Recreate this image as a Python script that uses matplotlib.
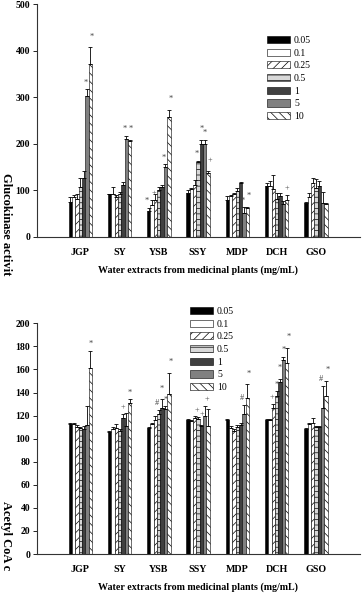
import numpy as np
import matplotlib
matplotlib.use('Agg')
import matplotlib.pyplot as plt

plt.rcParams['font.family'] = ['Liberation Serif', 'DejaVu Serif']
plt.rcParams['hatch.linewidth'] = 0.5

# Data
plants = ['JGP', 'SY', 'YSB', 'SSY', 'MDP', 'DCH', 'GSO']
doses = ['0.05', '0.1', '0.25', '0.5', '1', '5', '10']

# Glucokinase activity (rows = plants, cols = doses)
gk_vals = [
    [76, 86, 81, 108, 127, 302, 372],
    [92, 93, 85, 93, 112, 210, 207],
    [55, 69, 80, 100, 107, 151, 258],
    [95, 103, 112, 160, 199, 200, 138],
    [80, 88, 92, 98, 116, 51, 62],
    [109, 110, 102, 82, 87, 70, 79],
    [73, 86, 115, 106, 110, 74, 71],
]
gk_err = [
    [9, 4, 11, 19, 15, 15, 35],
    [1, 14, 5, 3, 7, 7, 2],
    [8, 10, 13, 8, 5, 5, 15],
    [5, 3, 11, 3, 9, 9, 3],
    [7, 3, 3, 8, 3, 13, 3],
    [6, 11, 32, 12, 8, 8, 12],
    [2, 8, 11, 18, 10, 23, 1],
]
gk_marks = {(0, 5): '*', (0, 6): '*', (1, 5): '*', (1, 6): '*',
            (2, 0): '*', (2, 1): '+', (2, 5): '*', (2, 6): '*',
            (3, 3): '*', (3, 4): '*', (3, 5): '*', (3, 6): '+',
            (4, 5): '*', (4, 6): '*', (5, 6): '+'}

# Acetyl CoA carboxylase
acc_vals = [
    [113, 113, 110, 109, 108, 112, 161],
    [106, 108, 109, 107, 118, 111, 131],
    [109, 113, 116, 121, 127, 126, 139],
    [116, 115, 118, 117, 111, 120, 111],
    [116, 109, 107, 110, 112, 121, 135],
    [116, 116, 127, 137, 149, 168, 166],
    [108, 113, 114, 110, 110, 127, 137],
]
acc_err = [
    [1, 1, 2, 1, 3, 16, 15],
    [1, 2, 4, 1, 3, 11, 3],
    [1, 1, 4, 4, 7, 2, 18],
    [1, 1, 2, 2, 1, 8, 15],
    [1, 2, 1, 2, 2, 8, 12],
    [1, 1, 3, 4, 3, 3, 13],
    [1, 1, 4, 1, 1, 19, 13],
]
acc_marks = {(0, 6): '*', (1, 4): '+', (1, 6): '*',
             (2, 3): '#', (2, 4): '*', (2, 5): '*', (2, 6): '*',
             (3, 3): '+', (3, 4): '+', (3, 5): '+',
             (4, 5): '#', (4, 6): '*',
             (5, 2): '+', (5, 3): '*', (5, 4): '*', (5, 5): '*', (5, 6): '*',
             (6, 5): '#', (6, 6): '*'}

faces = ['black', 'white', 'white', '#d8d8d8', '#404040', '#808080', 'white']
hatches = [None, None, '////', '---', None, None, '\\\\\\\\']

fig = plt.figure(figsize=(3.62, 5.96), dpi=100)
ax1 = fig.add_axes([37 / 362, 1 - 237 / 596, 323 / 362, 233 / 596])
ax2 = fig.add_axes([37 / 362, 1 - 554 / 596, 323 / 362, 230.7 / 596])

x = np.arange(len(plants))
w = 0.085


def draw(ax, vals, errs, marks, ymax, step, ylabel, ylab_y, leg_xy):
    vals = np.array(vals)
    errs = np.array(errs)
    for j in range(len(doses)):
        pos = x + (j - 3) * w
        ax.bar(pos, vals[:, j], width=w, color=faces[j], edgecolor='black',
               linewidth=0.4, hatch=hatches[j], label=doses[j])
        ax.errorbar(pos, vals[:, j], yerr=[np.zeros(len(plants)), errs[:, j]],
                    fmt='none', ecolor='black', elinewidth=0.6, capsize=1.6,
                    capthick=0.6)
    for (i, j), m in marks.items():
        # spread neighbouring marks a little so they do not sit on each other
        left = (i, j - 1) in marks
        right = (i, j + 1) in marks
        dx = 0.0
        if left and not right:
            dx = 1.2
        elif right and not left:
            dx = -1.2
        dy = 2 + (3 if (left and j % 2 == 0) else 0)
        ax.annotate(m, (x[i] + (j - 3) * w, vals[i, j] + errs[i, j]),
                    xytext=(dx, dy), textcoords='offset points',
                    ha='center', va='bottom', fontsize=6, color='#444444')
    ax.set_xlim(-1.1, 7.12)
    ax.set_ylim(0, ymax)
    ax.set_yticks(np.arange(0, ymax + 1, step))
    ax.set_xticks(x)
    ax.set_xticklabels(plants, fontsize=7.2, fontweight='bold')
    for t in ax.get_yticklabels():
        t.set_fontsize(7)
        t.set_fontweight('bold')
    ax.tick_params(axis='x', length=0, pad=8)
    ax.tick_params(axis='y', length=3, width=0.6, pad=2)
    for s in ['top', 'right']:
        ax.spines[s].set_visible(False)
    for s in ['left', 'bottom']:
        ax.spines[s].set_linewidth(0.8)
        ax.spines[s].set_color('#333333')
    ax.set_xlabel('Water extracts from medicinal plants (mg/mL)', fontsize=7.2,
                  fontweight='bold', labelpad=6)
    fig.text(6 / 362, ylab_y, ylabel, rotation=-90, fontsize=9,
             fontweight='bold', ha='center', va='center')
    ax.legend(loc='upper left', bbox_to_anchor=leg_xy,
              bbox_transform=fig.transFigure, frameon=False, fontsize=7,
              handlelength=2.4, handleheight=0.75, labelspacing=0.38,
              handletextpad=0.4, borderpad=0)


draw(ax1, gk_vals, gk_err, gk_marks, 500, 100, 'Glucokinase activit',
     1 - 224 / 596, (262 / 362, 1 - 31 / 596))
draw(ax2, acc_vals, acc_err, acc_marks, 200, 20, 'Acetyl CoA c',
     1 - 536 / 596, (185 / 362, 1 - 302 / 596))

fig.savefig('out.png', dpi=100)
